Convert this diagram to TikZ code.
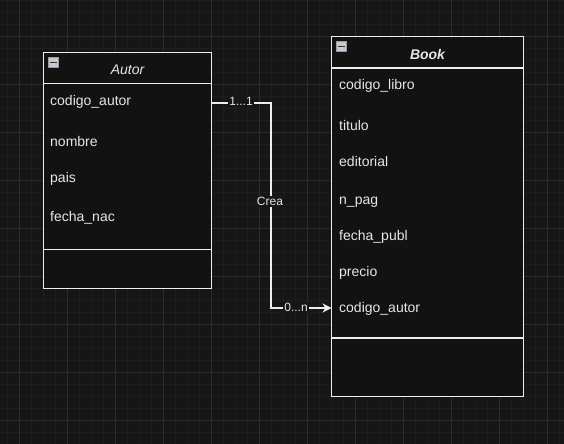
\documentclass[tikz,border=0pt]{standalone}
\usepackage{fontspec}
\setmainfont{Liberation Sans}
\usetikzlibrary{arrows.meta}
\definecolor{bgc}{HTML}{161616}
\definecolor{boxc}{HTML}{121212}
\definecolor{gminor}{HTML}{1E1E1E}
\definecolor{gmajor}{HTML}{2C2C2C}
\definecolor{linec}{HTML}{EEEEEE}
\definecolor{txtc}{HTML}{E6E6E6}
\definecolor{iconc}{HTML}{C5CAD6}
\begin{document}
\begin{tikzpicture}[x=1bp,y=-1bp,
  classbox/.style={draw=linec, fill=boxc, line width=1.1bp, outer sep=0pt},
  sepline/.style={draw=linec, line width=1.1bp},
  rowtext/.style={anchor=west, inner sep=0pt, text=txtc, text height=10bp, text depth=3bp, font=\fontsize{14bp}{16bp}\selectfont},
  headtext/.style={inner sep=0pt, text=txtc, font=\fontsize{14bp}{16bp}\selectfont},
  iconbox/.style={draw=gray!80, fill=iconc, minimum size=10bp, inner sep=0pt, line width=0.6bp},
  conn/.style={draw=linec, line width=1.1bp},
  elabel/.style={fill=bgc, text=txtc, inner sep=1bp, font=\fontsize{12bp}{14bp}\selectfont}
]
\useasboundingbox (0,0) rectangle (564,444);
\fill[bgc] (0,0) rectangle (564,444);
% grid
\foreach \x in {7.5,19.5,...,564} \draw[gminor, line width=0.8bp] (\x,0) -- (\x,444);
\foreach \y in {0,12,...,444} \draw[gminor, line width=0.8bp] (0,\y) -- (564,\y);
\foreach \x in {19.5,67.5,...,564} \draw[gmajor, line width=0.9bp] (\x,0) -- (\x,444);
\foreach \y in {36,84,...,444} \draw[gmajor, line width=0.9bp] (0,\y) -- (564,\y);

% Autor class
\node[classbox, anchor=north west, minimum width=168bp, minimum height=236bp, inner sep=0pt] (autor) at (43.5,52.5) {};
\draw[sepline] (43.5,83.5) -- (211.5,83.5);
\draw[sepline] (43.5,249.5) -- (211.5,249.5);
\node[iconbox] (autoricon) at (53.5,62.5) {};
\draw[black!80, line width=1.2bp] ([xshift=2bp]autoricon.west) -- ([xshift=-2bp]autoricon.east);
\node[headtext, font=\fontsize{14bp}{16bp}\selectfont\itshape] (autorhead) at (127.5,70) {Autor};
\node[rowtext] (a1) at (50,102) {codigo\_autor};
\node[rowtext] (a2) at (50,143) {nombre};
\node[rowtext] (a3) at (50,179) {pais};
\node[rowtext] (a4) at (50,218) {fecha\_nac};

% Book class
\node[classbox, anchor=north west, minimum width=192bp, minimum height=360bp, inner sep=0pt] (book) at (331.5,36.5) {};
\draw[sepline] (331.5,68) -- (523.5,68);
\draw[sepline] (331.5,338) -- (523.5,338);
\node[iconbox] (bookicon) at (341.5,46.5) {};
\draw[black!80, line width=1.2bp] ([xshift=2bp]bookicon.west) -- ([xshift=-2bp]bookicon.east);
\node[headtext, font=\fontsize{14bp}{16bp}\selectfont\bfseries\itshape] (bookhead) at (427.5,54) {Book};
\node[rowtext] (b1) at (339,86) {codigo\_libro};
\node[rowtext] (b2) at (339,127) {titulo};
\node[rowtext] (b3) at (339,163) {editorial};
\node[rowtext] (b4) at (339,201) {n\_pag};
\node[rowtext] (b5) at (339,237) {fecha\_publ};
\node[rowtext] (b6) at (339,273) {precio};
\node[rowtext] (b7) at (339,309) {codigo\_autor};

% connector
\coordinate (src) at (autor.east |- 0,103);
\coordinate (bend) at (271,103);
\coordinate (dst) at (book.west |- 0,308);
\draw[conn, -{Stealth[length=9bp,width=9bp,inset=3bp]}] (src) -- (bend) |- (dst);
\node[elabel] (l1) at (241,101.5) {1...1};
\node[elabel] (l2) at (270,201.5) {Crea};
\node[elabel] (l3) at (296,307.5) {0...n};
\end{tikzpicture}
\end{document}
